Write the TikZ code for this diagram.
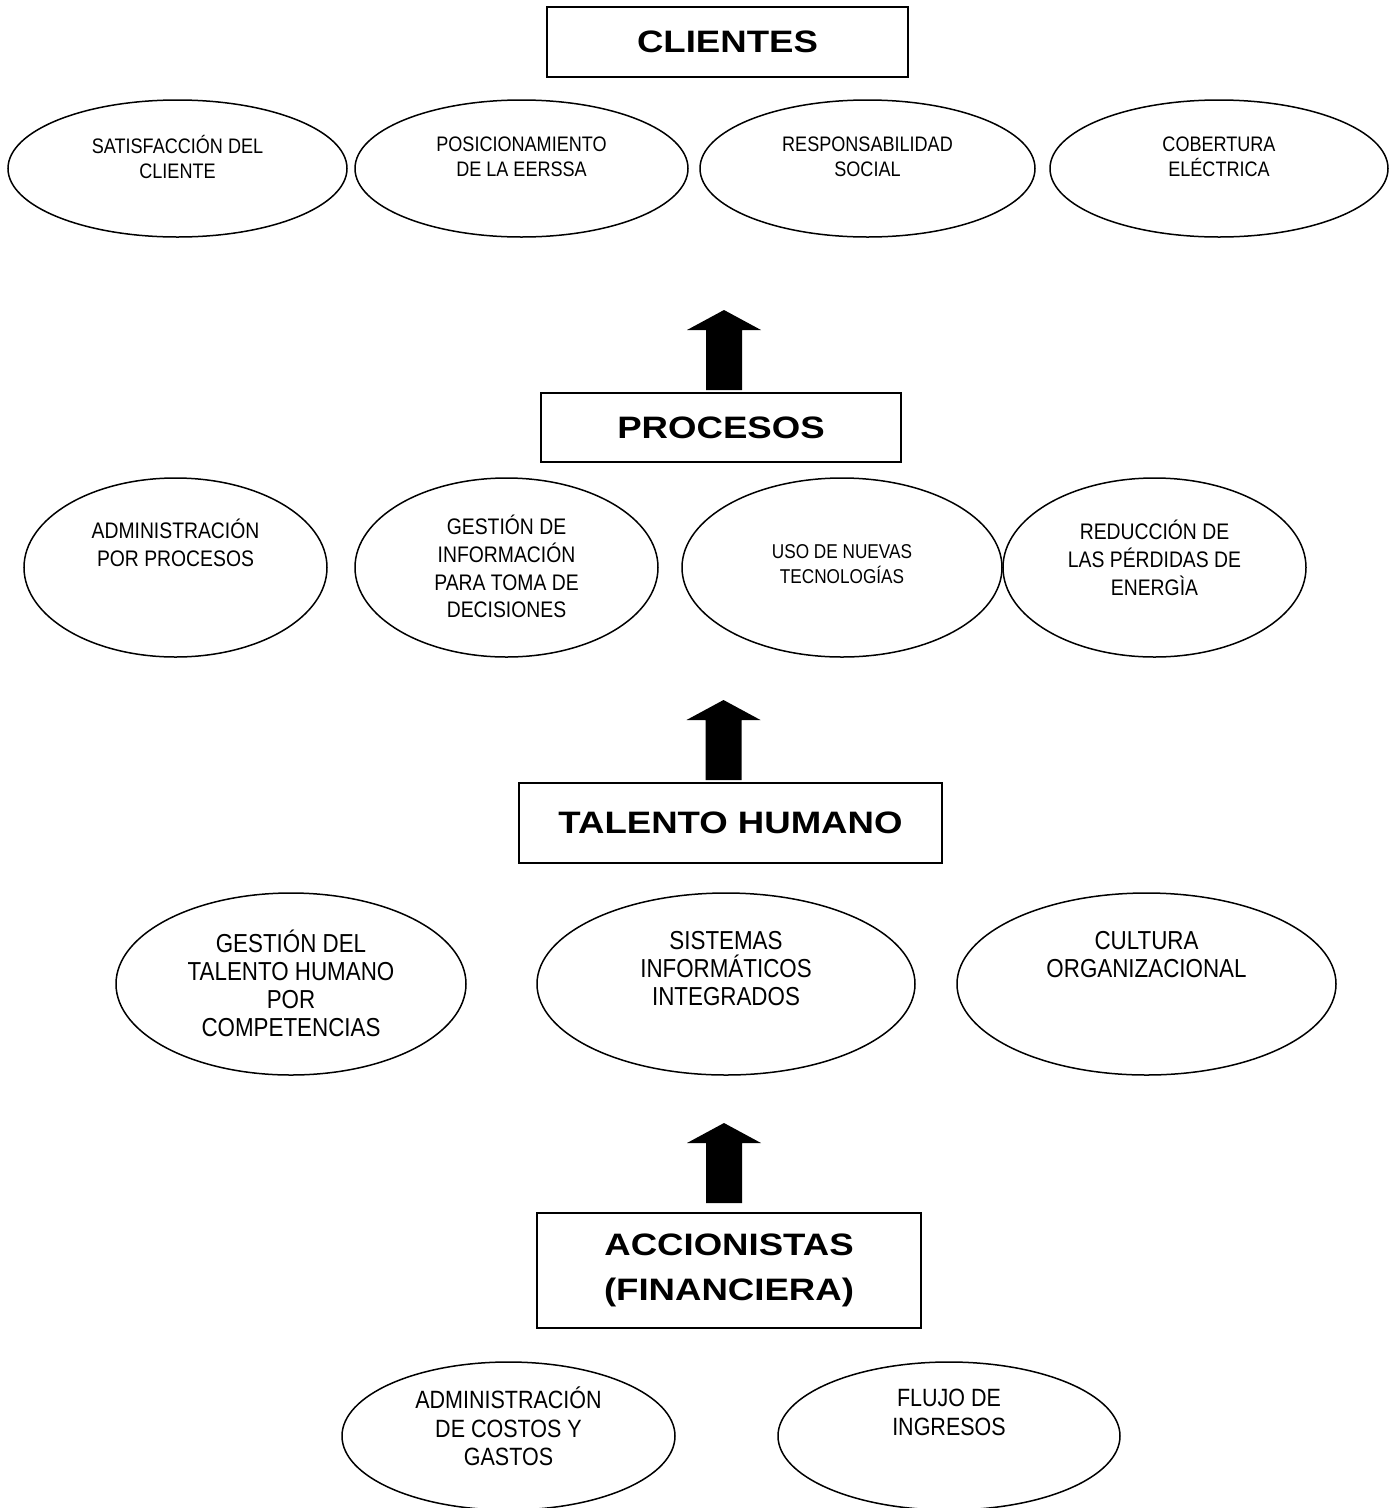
\documentclass[tikz,border=0pt]{standalone}
\usepackage{fontspec}
\setmainfont{Liberation Sans}
\newfontfamily\headfont[FakeStretch=1.18]{Liberation Sans}
\newfontfamily\ovalfont[FakeStretch=0.86]{Liberation Sans}
\usetikzlibrary{shapes.geometric}
\begin{document}
\begin{tikzpicture}[x=1pt,y=-1pt,inner sep=0pt,outer sep=0pt,
persp/.style={draw,rectangle,line width=1.8pt,align=center,font=\headfont\bfseries\fontsize{31}{45}\selectfont},
oval/.style={draw,ellipse,line width=1.5pt},
ovaltext/.style 2 args={align=center,font=\ovalfont\fontsize{#1}{#2}\selectfont},
uparrow/.style={fill=black}]
\useasboundingbox (0,0) rectangle (1395,1508);
% perspectivas
\draw (727.5,42) node[persp,minimum width=361,minimum height=70] (clientes) {CLIENTES};
\draw (721,427.5) node[persp,minimum width=360,minimum height=69] (procesos) {PROCESOS};
\draw (730.5,823) node[persp,minimum width=423,minimum height=80] (talento) {TALENTO HUMANO};
\draw (729,1270.5) node[persp,minimum width=384,minimum height=115] (accionistas) {ACCIONISTAS\\(FINANCIERA)};
% clientes
\draw (177.5,168.5) node[oval,minimum width=339,minimum height=137] (satis) {};
\draw (521.5,168.5) node[oval,minimum width=333,minimum height=137] (posic) {};
\draw (867.5,168.5) node[oval,minimum width=335,minimum height=137] (respo) {};
\draw (1219,168.5) node[oval,minimum width=338,minimum height=137] (cober) {};
\draw (177.5,157) node[ovaltext={21}{25}] (satisT) {SATISFACCIÓN DEL\\CLIENTE};
\draw (521.5,157) node[ovaltext={21}{25}] (posicT) {POSICIONAMIENTO\\DE LA EERSSA};
\draw (867.5,157) node[ovaltext={21}{25}] (respoT) {RESPONSABILIDAD\\SOCIAL};
\draw (1219,157) node[ovaltext={21}{25}] (coberT) {COBERTURA\\ELÉCTRICA};
% procesos
\draw (175.5,567.5) node[oval,minimum width=303,minimum height=179] (admpro) {};
\draw (506.5,567.5) node[oval,minimum width=303,minimum height=179] (gesinf) {};
\draw (842,567.5) node[oval,minimum width=320,minimum height=179] (usotec) {};
\draw (1154.5,567.5) node[oval,minimum width=303,minimum height=179] (redper) {};
\draw (175.5,543) node[ovaltext={22.5}{28}] (admproT) {ADMINISTRACIÓN\\POR PROCESOS};
\draw (506.5,566.5) node[ovaltext={22.5}{27.7}] (gesinfT) {GESTIÓN DE\\INFORMACIÓN\\PARA TOMA DE\\DECISIONES};
\draw (842,564) node[ovaltext={20}{25}] (usotecT) {USO DE NUEVAS\\TECNOLOGÍAS};
\draw (1154.5,558) node[ovaltext={22.5}{28}] (redperT) {REDUCCIÓN DE\\LAS PÉRDIDAS DE\\ENERGÌA};
% talento humano
\draw (291,984) node[oval,minimum width=350,minimum height=182] (gestal) {};
\draw (726,984) node[oval,minimum width=378,minimum height=182] (sisinf) {};
\draw (1146.5,984) node[oval,minimum width=379,minimum height=182] (cultor) {};
\draw (291,983) node[ovaltext={26}{28}] (gestalT) {GESTIÓN DEL\\TALENTO HUMANO\\POR\\COMPETENCIAS};
\draw (726,969) node[ovaltext={26}{28}] (sisinfT) {SISTEMAS\\INFORMÁTICOS\\INTEGRADOS};
\draw (1146.5,955) node[ovaltext={26}{28}] (cultorT) {CULTURA\\ORGANIZACIONAL};
% accionistas
\draw (508.5,1436) node[oval,minimum width=333,minimum height=148] (admcos) {};
\draw (949,1436) node[oval,minimum width=342,minimum height=148] (flujo) {};
\draw (508.5,1426.5) node[ovaltext={25}{28.5}] (admcosT) {ADMINISTRACIÓN\\DE COSTOS Y\\GASTOS};
\draw (949,1412.5) node[ovaltext={25}{28.5}] (flujoT) {FLUJO DE\\INGRESOS};
% flechas
\fill[uparrow] ([xshift=3pt,yshift=3pt]procesos.north) ++(-18,0) -- ++(0,-60) -- ++(-19,0) -- ++(37,-20) -- ++(37,20) -- ++(-19,0) -- ++(0,60) -- cycle;
\fill[uparrow] ([xshift=-7pt,yshift=3pt]talento.north) ++(-18,0) -- ++(0,-60) -- ++(-19,0) -- ++(37,-20) -- ++(37,20) -- ++(-19,0) -- ++(0,60) -- cycle;
\fill[uparrow] ([xshift=-5pt,yshift=10pt]accionistas.north) ++(-18,0) -- ++(0,-60) -- ++(-19,0) -- ++(37,-20) -- ++(37,20) -- ++(-19,0) -- ++(0,60) -- cycle;
\end{tikzpicture}
\end{document}
